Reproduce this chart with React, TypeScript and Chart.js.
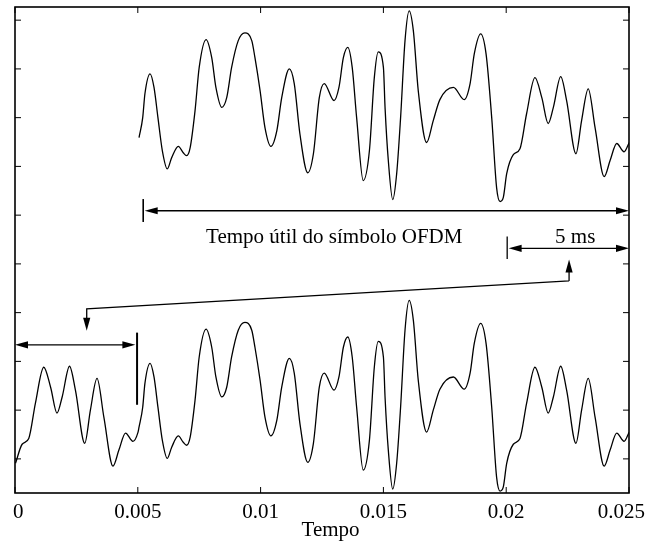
import React, { useEffect, useRef } from 'react';
import { Chart, registerables } from 'chart.js';

Chart.register(...registerables);

// Useful part of the OFDM symbol (time in s, amplitude in arbitrary units)
const symbolTimes = [
  0.00505, 0.0052, 0.00529, 0.0055, 0.00566, 0.00582, 0.006, 0.0062, 0.00638, 0.00665,
  0.00685, 0.00699, 0.00713, 0.00733, 0.0075, 0.00778, 0.00801, 0.00818, 0.00842, 0.00862,
  0.00882, 0.00909, 0.00936, 0.00964, 0.00977, 0.00998, 0.01018, 0.01042, 0.01066, 0.01086,
  0.01117, 0.01137, 0.0116, 0.01192, 0.01215, 0.01239, 0.01259, 0.01299, 0.01319, 0.01337,
  0.01355, 0.01373, 0.01391, 0.01418, 0.01443, 0.01463, 0.01479, 0.015, 0.01507, 0.0152,
  0.01538, 0.01554, 0.0157, 0.01588, 0.01605, 0.01622, 0.01642, 0.01676, 0.01703, 0.0173,
  0.01785, 0.01829, 0.01853, 0.0187, 0.01896, 0.01918, 0.01941, 0.01961, 0.01975, 0.01988,
  0.02002, 0.02029, 0.02056, 0.02083, 0.02117, 0.02145, 0.02171, 0.02192, 0.02222, 0.02246,
  0.02284, 0.02307, 0.02334, 0.02362, 0.02399, 0.02423, 0.0245, 0.0248, 0.02501,
];
const symbolAmplitudes = [
  -0.41, 0.0, 0.49, 0.9, 0.62, 0.0, -0.68, -1.05, -0.82, -0.59,
  -0.72, -0.78, -0.62, 0.14, 1.03, 1.6, 1.23, 0.62, 0.21, 0.41,
  1.03, 1.58, 1.74, 1.58, 1.23, 0.55, -0.21, -0.59, -0.27, 0.41,
  1.0, 0.7, -0.33, -1.13, -0.74, 0.41, 0.7, 0.35, 0.62, 1.23,
  1.44, 1.03, 0.0, -1.29, -0.68, 0.82, 1.35, 1.03, 0.18, -0.88,
  -1.68, -1.15, 0.0, 1.58, 2.19, 1.78, 0.55, -0.51, -0.06, 0.37,
  0.62, 0.37, 0.7, 1.31, 1.72, 1.31, 0.0, -1.44, -1.72, -1.64,
  -1.15, -0.76, -0.64, 0.08, 0.82, 0.41, -0.12, 0.21, 0.84, 0.35,
  -0.74, -0.06, 0.59, -0.21, -1.21, -0.88, -0.53, -0.7, -0.51,
];
// The cyclic prefix repeats the last 5 ms of the symbol
const prefixSourceStart = 0.02;
const upperTraceOffset = 7;
const lowerTraceOffset = 1.06;

const xTickValues = [0, 0.005, 0.01, 0.015, 0.02, 0.025];
const xTickLabels = ['0', '0.005', '0.01', '0.015', '0.02', '0.025'];
const yTickValues = [0, 1, 2, 3, 4, 5, 6, 7, 8, 9];
const xAxisTitle = 'Tempo';
const usefulLabel = 'Tempo útil do símbolo OFDM';
const prefixLabel = '5 ms';

const FAMILY = '"Liberation Serif", "Times New Roman", serif';
const FONT = '21px ' + FAMILY;

function arrowHead(ctx: CanvasRenderingContext2D, tx: number, ty: number, dx: number, dy: number) {
  const len = 13;
  const half = 3.6;
  const px = -dy;
  const py = dx;
  ctx.beginPath();
  ctx.moveTo(tx, ty);
  ctx.lineTo(tx - dx * len + px * half, ty - dy * len + py * half);
  ctx.lineTo(tx - dx * len - px * half, ty - dy * len - py * half);
  ctx.closePath();
  ctx.fill();
}

const decorPlugin = {
  id: 'decor',
  afterDatasetsDraw(chart: any) {
    const { ctx, chartArea: a, scales, width } = chart;
    const xs = scales.x;
    const ys = scales.y;
    const X = (v: number) => xs.getPixelForValue(v);
    const Y = (v: number) => ys.getPixelForValue(v);
    ctx.save();
    ctx.strokeStyle = '#000';
    ctx.fillStyle = '#000';
    ctx.lineCap = 'butt';

    // frame
    ctx.lineWidth = 1.6;
    ctx.strokeRect(a.left, a.top, a.right - a.left, a.bottom - a.top);
    // inward ticks
    ctx.lineWidth = 1;
    const tl = 6;
    ctx.beginPath();
    xTickValues.forEach((v) => {
      const px = X(v);
      ctx.moveTo(px, a.bottom);
      ctx.lineTo(px, a.bottom - tl);
      ctx.moveTo(px, a.top);
      ctx.lineTo(px, a.top + tl);
    });
    yTickValues.forEach((v) => {
      const py = Y(v);
      ctx.moveTo(a.left, py);
      ctx.lineTo(a.left + tl, py);
      ctx.moveTo(a.right, py);
      ctx.lineTo(a.right - tl, py);
    });
    ctx.stroke();

    ctx.lineWidth = 1.3;
    const hDouble = (x0: number, x1: number, y: number) => {
      const p0 = X(x0), p1 = X(x1), py = Y(y);
      ctx.beginPath();
      ctx.moveTo(p0 + 4, py);
      ctx.lineTo(p1 - 4, py);
      ctx.stroke();
      arrowHead(ctx, p0, py, -1, 0);
      arrowHead(ctx, p1, py, 1, 0);
    };
    const vBar = (x: number, y0: number, y1: number, w: number) => {
      ctx.save();
      ctx.lineWidth = w;
      ctx.beginPath();
      ctx.moveTo(X(x), Y(y0));
      ctx.lineTo(X(x), Y(y1));
      ctx.stroke();
      ctx.restore();
    };

    // useful symbol duration arrow
    vBar(0.00522, 5.33, 4.86, 1.6);
    hDouble(0.00528, 0.025, 5.09);
    // 5 ms arrow
    vBar(0.02004, 4.56, 4.1, 1.3);
    hDouble(0.0201, 0.025, 4.32);
    // connector (copy of the last 5 ms to the prefix)
    ctx.beginPath();
    ctx.moveTo(X(0.02256), Y(3.65));
    ctx.lineTo(X(0.00292), Y(3.08));
    ctx.lineTo(X(0.00292), Y(2.75));
    ctx.moveTo(X(0.02256), Y(3.65));
    ctx.lineTo(X(0.02256), Y(3.98));
    ctx.stroke();
    arrowHead(ctx, X(0.02256), Y(4.09), 0, -1);
    arrowHead(ctx, X(0.00292), Y(2.63), 0, 1);
    // cyclic prefix arrow
    vBar(0.00497, 2.59, 1.11, 2);
    hDouble(0.0, 0.0049, 2.34);

    // texts
    ctx.font = FONT;
    ctx.textBaseline = 'alphabetic';
    ctx.textAlign = 'left';
    ctx.fillText(usefulLabel, X(0.00778), Y(4.43));
    ctx.fillText(prefixLabel, X(0.02199), Y(4.43));

    // x tick labels, kept inside the canvas
    ctx.textAlign = 'center';
    xTickValues.forEach((v, i) => {
      const label = xTickLabels[i];
      const w = ctx.measureText(label).width;
      let cx = X(v);
      cx = Math.max(cx, 13 + w / 2);
      cx = Math.min(cx, width - 3 - w / 2);
      ctx.fillText(label, cx, a.bottom + 25);
    });
    // axis title
    ctx.fillText(xAxisTitle, X(0.01285), a.bottom + 43);
    ctx.restore();
  },
};

export default function App() {
  const ref = useRef<HTMLCanvasElement | null>(null);
  useEffect(() => {
    if (!ref.current) return;
    const upper = symbolTimes.map((t, i) => ({ x: t, y: symbolAmplitudes[i] + upperTraceOffset }));
    const prefix = symbolTimes
      .map((t, i) => ({ t, a: symbolAmplitudes[i] }))
      .filter((p) => p.t >= prefixSourceStart)
      .map((p) => ({ x: p.t - prefixSourceStart, y: p.a + lowerTraceOffset }));
    const lower = prefix.concat(
      symbolTimes.map((t, i) => ({ x: t, y: symbolAmplitudes[i] + lowerTraceOffset }))
    );
    const lineStyle = {
      borderColor: '#000',
      borderWidth: 1.3,
      pointRadius: 0,
      fill: false,
      cubicInterpolationMode: 'monotone' as const,
    };
    const chart = new Chart(ref.current, {
      type: 'line',
      data: {
        datasets: [
          { label: 'Símbolo OFDM', data: upper, ...lineStyle },
          { label: 'Símbolo com prefixo cíclico', data: lower, ...lineStyle },
        ],
      },
      options: {
        animation: false,
        responsive: false,
        devicePixelRatio: 1,
        layout: { padding: { left: 15, right: 19, top: 7, bottom: 0 } },
        plugins: { legend: { display: false }, tooltip: { enabled: false } },
        scales: {
          x: {
            type: 'linear',
            min: 0,
            max: 0.025,
            grid: { display: false, drawTicks: false },
            border: { display: false },
            afterBuildTicks: (s: any) => {
              s.ticks = xTickValues.map((v) => ({ value: v }));
            },
            afterFit: (s: any) => {
              s.height = 49;
              s.paddingLeft = 0;
              s.paddingRight = 0;
            },
            ticks: { display: false },
            title: { display: false, text: xAxisTitle },
          },
          y: {
            type: 'linear',
            display: false,
            min: -0.7,
            max: 9.27,
          },
        },
      },
      plugins: [decorPlugin],
    });
    return () => chart.destroy();
  }, []);
  return (
    <div style={{ position: 'fixed', left: 0, top: 0, width: 648, height: 542, background: '#fff' }}>
      <canvas ref={ref} width={648} height={542} style={{ width: 648, height: 542, display: 'block' }} />
    </div>
  );
}
